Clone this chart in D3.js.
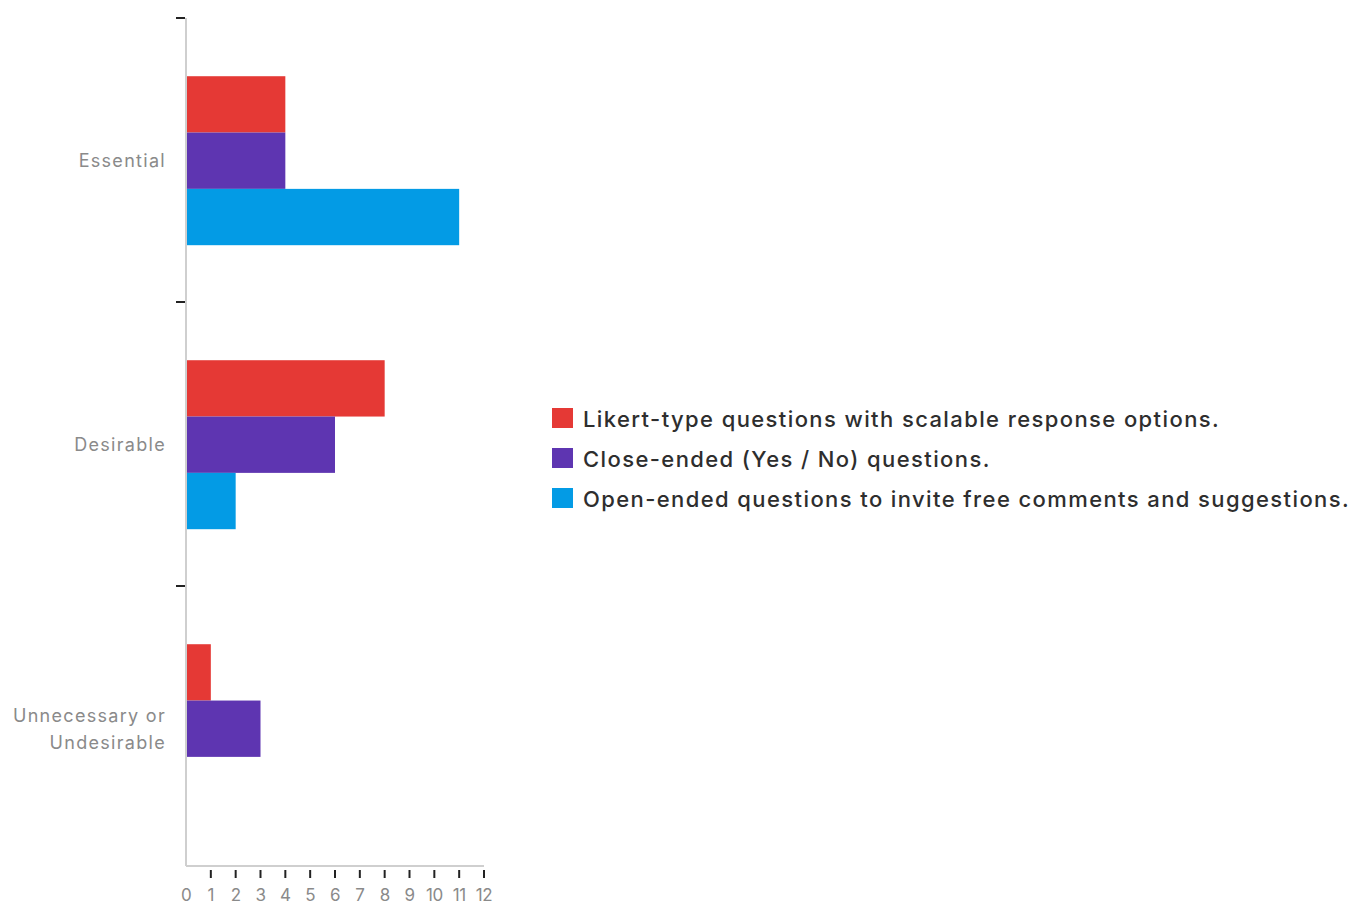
<!DOCTYPE html>
<html>
<head>
<meta charset="utf-8">
<script src="https://cdn.jsdelivr.net/npm/d3@7"></script>
<style>
  html, body { margin: 0; padding: 0; background: #fff; }
  svg { display: block; font-family: Inter, "Noto Sans", sans-serif; }
</style>
</head>
<body>
<svg id="chart" width="1356" height="905"></svg>
<script>
// Response categories (y axis) and the three question types (series)
const categories = ["Essential", "Desirable", "Unnecessary or Undesirable"];
const categoryLines = [["Essential"], ["Desirable"], ["Unnecessary or", "Undesirable"]];
const seriesNames = [
  "Likert-type questions with scalable response options.",
  "Close-ended (Yes / No) questions.",
  "Open-ended questions to invite free comments and suggestions."
];
const seriesColors = ["#e53935", "#5e35b1", "#039be5"];
// counts per category, one array per series
const likertValues = [4, 8, 1];
const closedValues = [4, 6, 3];
const openValues = [11, 2, 0];
const xTicks = [0, 1, 2, 3, 4, 5, 6, 7, 8, 9, 10, 11, 12];

const seriesValues = [likertValues, closedValues, openValues];

const svg = d3.select("#chart");
const plotLeft = 186, plotTop = 18, plotBottom = 870, xMaxPx = 484;

const y = d3.scaleBand().domain(categories).range([plotTop, plotBottom]).paddingInner(0).paddingOuter(0);
const inner = d3.scaleBand().domain(d3.range(seriesNames.length))
  .range([y.bandwidth() * 0.205, y.bandwidth() * 0.8]);
const x = d3.scaleLinear().domain([0, 12]).range([plotLeft, xMaxPx]);

// bars
const groups = svg.append("g").selectAll("g").data(categories).join("g")
  .attr("transform", d => `translate(0,${y(d)})`);
groups.selectAll("rect")
  .data((c, ci) => seriesValues.map((vals, si) => ({ si, v: vals[ci] })))
  .join("rect")
  .attr("x", x(0))
  .attr("y", d => inner(d.si))
  .attr("width", d => x(d.v) - x(0))
  .attr("height", inner.bandwidth())
  .attr("fill", d => seriesColors[d.si]);

// axis lines
svg.append("line").attr("x1", plotLeft).attr("x2", plotLeft).attr("y1", plotTop).attr("y2", plotBottom - 4)
  .attr("stroke", "#cfcfcf").attr("stroke-width", 2);
svg.append("line").attr("x1", plotLeft).attr("x2", xMaxPx).attr("y1", plotBottom - 4).attr("y2", plotBottom - 4)
  .attr("stroke", "#cfcfcf").attr("stroke-width", 2);

// category boundary ticks
svg.append("g").selectAll("line").data(categories).join("line")
  .attr("x1", plotLeft - 10).attr("x2", plotLeft - 1)
  .attr("y1", d => y(d)).attr("y2", d => y(d))
  .attr("stroke", "#222").attr("stroke-width", 2);

// category labels
const labels = svg.append("g").selectAll("text").data(categories).join("text")
  .attr("x", 166)
  .attr("text-anchor", "end")
  .attr("fill", "#8a8a8a")
  .style("font-size", "18px")
  .style("letter-spacing", "1.3px");
labels.each(function (d, i) {
  const lines = categoryLines[i];
  const cy = y(d) + y.bandwidth() / 2 + 1;
  const lh = 27;
  const start = cy - (lines.length - 1) * lh / 2;
  d3.select(this).selectAll("tspan").data(lines).join("tspan")
    .attr("x", 166)
    .attr("y", (l, k) => start + k * lh)
    .attr("dy", "0.35em")
    .text(l => l);
});

// x ticks and labels
svg.append("g").selectAll("line").data(xTicks.filter(t => t > 0)).join("line")
  .attr("x1", d => x(d)).attr("x2", d => x(d))
  .attr("y1", plotBottom).attr("y2", plotBottom + 8)
  .attr("stroke", "#222").attr("stroke-width", 2);
svg.append("g").selectAll("text").data(xTicks).join("text")
  .attr("x", d => x(d)).attr("y", 895)
  .attr("dy", "0.35em")
  .attr("text-anchor", "middle")
  .attr("fill", "#8a8a8a")
  .style("font-size", "17px")
  .style("letter-spacing", "-0.5px")
  .text(d => d);

// legend
const legend = svg.append("g").attr("transform", "translate(552,418)");
const items = legend.selectAll("g").data(seriesNames).join("g")
  .attr("transform", (d, i) => `translate(0,${i * 40})`);
items.append("rect").attr("x", 0).attr("y", -10).attr("width", 21).attr("height", 20)
  .attr("fill", (d, i) => seriesColors[i]);
items.append("text").attr("x", 31).attr("y", 1).attr("dy", "0.35em")
  .attr("fill", "#2e2e2e")
  .style("font-size", "22px")
  .style("font-weight", 500)
  .style("letter-spacing", "1.4px")
  .text(d => d);
</script>
</body>
</html>
